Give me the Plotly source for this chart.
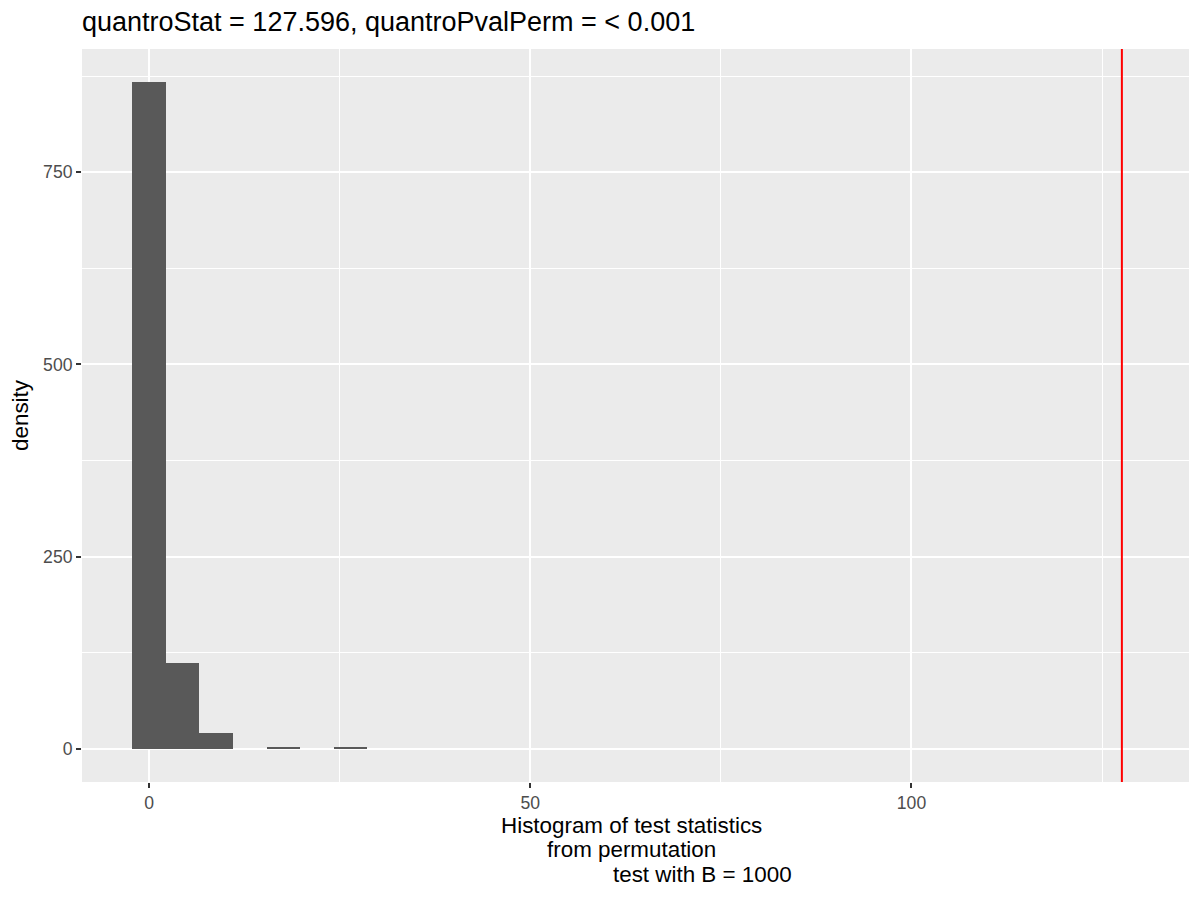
import plotly.graph_objects as go

# ----------------------------- data --------------------------------------
bin_width = 4.4
bin_centers = [0, 4.4, 8.8, 13.2, 17.6, 22.0, 26.4]
bin_counts = [867, 111, 20, 0, 1, 0, 1]
quantro_stat = 127.596

x_ticks = [0, 50, 100]
y_ticks = [0, 250, 500, 750]

title_text = 'quantroStat = 127.596, quantroPvalPerm = < 0.001'
x_title_lines = ['Histogram of test statistics',
                 'from permutation',
                 'test with B = 1000']

fig = go.Figure()

# histogram bars
fig.add_trace(go.Bar(
    x=bin_centers,
    y=bin_counts,
    width=bin_width,
    marker=dict(color='#595959', line=dict(width=0)),
    hoverinfo='x+y'
))

# observed statistic
fig.add_vline(x=quantro_stat, line=dict(color='#FF0000', width=2))

# x axis title, one line at a time (ggplot-like tight line height)
shifts = [(-43, -4), (-67, -4), (-92, 67)]
for line, (dy, dx) in zip(x_title_lines, shifts):
    fig.add_annotation(
        text=line, x=0.5, y=0, xref='paper', yref='paper',
        xanchor='center', yanchor='middle', yshift=dy, xshift=dx,
        showarrow=False, font=dict(size=22.4, color='black')
    )

font = 'Liberation Sans, Arial, sans-serif'
fig.update_layout(
    width=1192, height=892,
    margin={'l': 72, 'r': 11, 't': 41, 'b': 118},
    paper_bgcolor='white',
    plot_bgcolor='#EBEBEB',
    showlegend=False,
    bargap=0,
    font=dict(family=font, color='black'),
    title=dict(
        text=title_text,
        font=dict(size=27, color='black'),
        x=0, xref='paper', xanchor='left',
        y=1 - 14 / 892, yref='container', yanchor='middle'
    )
)

fig.update_xaxes(
    range=[-8.8, 136.4],
    tickvals=x_ticks,
    ticks='outside', ticklen=5, tickwidth=1.5, tickcolor='#333333',
    tickfont=dict(size=17.6, color='#4D4D4D'),
    showgrid=True, gridcolor='white', gridwidth=2,
    minor=dict(dtick=25, tick0=25, showgrid=True, gridcolor='white', gridwidth=1, ticks=''),
    zeroline=False, showline=False
)
fig.update_yaxes(
    range=[-43.35, 910.35],
    tickvals=y_ticks,
    ticks='outside', ticklen=5, tickwidth=1.5, tickcolor='#333333',
    tickfont=dict(size=17.6, color='#4D4D4D'),
    showgrid=True, gridcolor='white', gridwidth=2,
    minor=dict(dtick=250, tick0=125, showgrid=True, gridcolor='white', gridwidth=1, ticks=''),
    zeroline=False, showline=False,
    title=dict(text='density', font=dict(size=22.4, color='black'), standoff=8)
)

fig.write_html('out.html')
